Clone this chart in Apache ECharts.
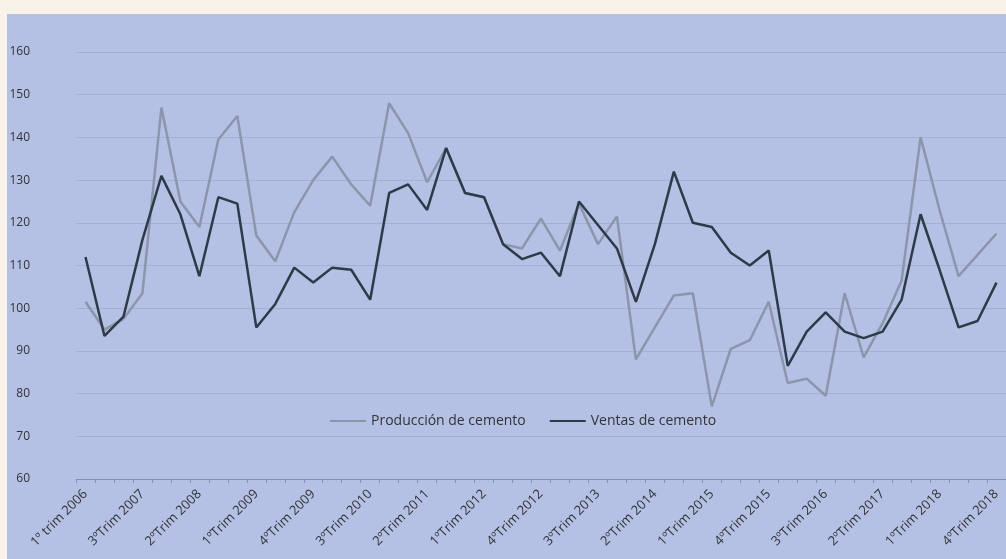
<!DOCTYPE html>
<html>
<head>
<meta charset="utf-8">
<script src="https://cdn.jsdelivr.net/npm/echarts@6/dist/echarts.min.js"></script>
<style>
  html, body { margin: 0; padding: 0; background: #f8f2e9; }
  #chart { width: 1006px; height: 559px; }
</style>
</head>
<body>
<div id="chart"></div>
<script>
// 1º trim 2006, then quarterly 2007-2018
const categories = [
  '1º trim 2006',
  '1ºTrim 2007', '2ºTrim 2007', '3ºTrim 2007', '4ºTrim 2007',
  '1ºTrim 2008', '2ºTrim 2008', '3ºTrim 2008', '4ºTrim 2008',
  '1ºTrim 2009', '2ºTrim 2009', '3ºTrim 2009', '4ºTrim 2009',
  '1ºTrim 2010', '2ºTrim 2010', '3ºTrim 2010', '4ºTrim 2010',
  '1ºTrim 2011', '2ºTrim 2011', '3ºTrim 2011', '4ºTrim 2011',
  '1ºTrim 2012', '2ºTrim 2012', '3ºTrim 2012', '4ºTrim 2012',
  '1ºTrim 2013', '2ºTrim 2013', '3ºTrim 2013', '4ºTrim 2013',
  '1ºTrim 2014', '2ºTrim 2014', '3ºTrim 2014', '4ºTrim 2014',
  '1ºTrim 2015', '2ºTrim 2015', '3ºTrim 2015', '4ºTrim 2015',
  '1ºTrim 2016', '2ºTrim 2016', '3ºTrim 2016', '4ºTrim 2016',
  '1ºTrim 2017', '2ºTrim 2017', '3ºTrim 2017', '4ºTrim 2017',
  '1ºTrim 2018', '2ºTrim 2018', '3ºTrim 2018', '4ºTrim 2018'
]

const produccion = [
  101.5, 95, 97.5, 103.5, 147, 125, 119, 139.5, 145, 117,
  111, 122.5, 130, 135.5, 129, 124, 148, 141, 129.5, 137.5,
  127, 126, 115, 114, 121, 113.5, 124.5, 115, 121.5, 88,
  95.5, 103, 103.5, 77, 90.5, 92.5, 101.5, 82.5, 83.5, 79.5,
  103.5, 88.5, 96.5, 106.5, 140, 123, 107.5, 112.5, 117.5
]

const ventas = [
  112, 93.5, 98, 116, 131, 122, 107.5, 126, 124.5, 95.5,
  101, 109.5, 106, 109.5, 109, 102, 127, 129, 123, 137.5,
  127, 126, 115, 111.5, 113, 107.5, 125, 119.5, 114, 101.5,
  115, 132, 120, 119, 113, 110, 113.5, 86.5, 94.5, 99,
  94.5, 93, 94.5, 102, 122, 109, 95.5, 97, 106
]

const chart = echarts.init(document.getElementById('chart'))
chart.setOption({
  backgroundColor: 'transparent',
  textStyle: { fontFamily: 'Open Sans' },
  graphic: [
    {
      type: 'rect',
      z: -10,
      silent: true,
      shape: { x: 7, y: 14, width: 1000, height: 546 },
      style: { fill: '#b4c1e5' }
    }
  ],
  legend: {
    left: 325,
    top: 409,
    icon: 'rect',
    itemWidth: 36,
    itemHeight: 2,
    itemGap: 24,
    textStyle: { fontSize: 14, color: '#333' },
    data: ['Producción de cemento', 'Ventas de cemento']
  },
  grid: {
    left: 76,
    right: -2,
    top: 52,
    bottom: 80
  },
  xAxis: {
    type: 'category',
    boundaryGap: true,
    data: categories,
    axisLine: { lineStyle: { color: '#8591b3', width: 1 } },
    axisTick: { show: true, interval: 0, length: 4, lineStyle: { color: '#8591b3' } },
    axisLabel: {
      interval: 2,
      rotate: 45,
      fontSize: 13,
      color: '#333',
      margin: 13
    }
  },
  yAxis: {
    type: 'value',
    min: 60,
    max: 160,
    interval: 10,
    axisLine: { show: false },
    axisTick: { show: false },
    axisLabel: { fontSize: 12, color: '#333', margin: 46 },
    splitLine: { lineStyle: { color: '#a3b0d4', width: 1 } }
  },
  series: [
    {
      name: 'Producción de cemento',
      type: 'line',
      data: produccion,
      symbol: 'none',
      z: 2,
      itemStyle: { color: '#8d95ab' },
      lineStyle: { color: '#8d95ab', width: 2.5 }
    },
    {
      name: 'Ventas de cemento',
      type: 'line',
      data: ventas,
      symbol: 'none',
      z: 3,
      itemStyle: { color: '#2e3a46' },
      lineStyle: { color: '#2e3a46', width: 2.5 }
    }
  ],
  animation: false
})
</script>
</body>
</html>
